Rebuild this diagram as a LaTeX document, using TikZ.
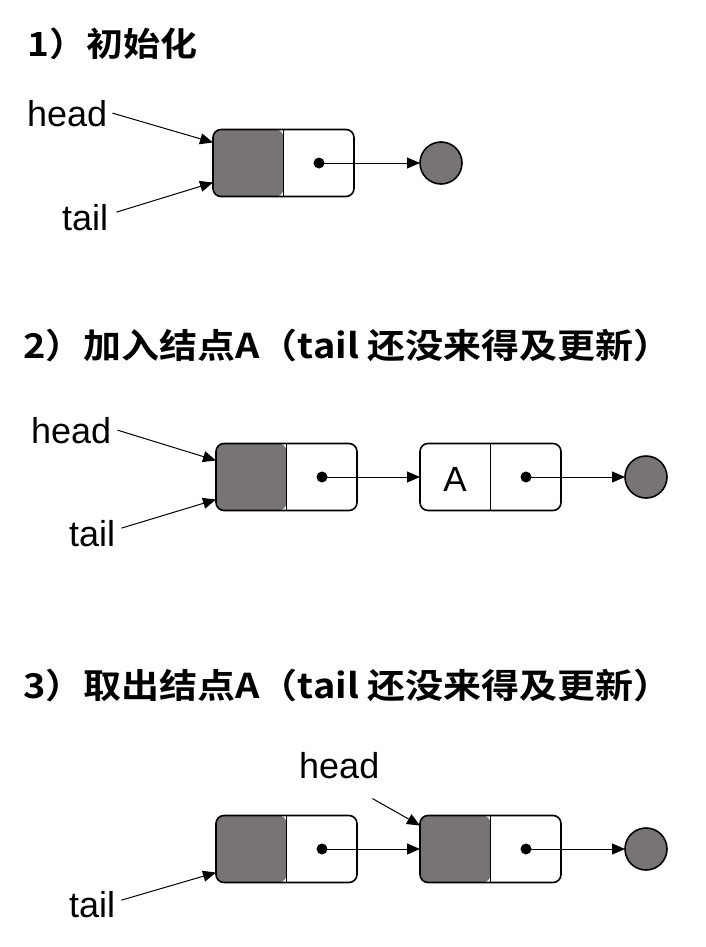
\documentclass[tikz,border=0pt]{standalone}
\usepackage{fontspec}
\setmainfont{Liberation Sans}
\newfontfamily\titlefont{Noto Sans CJK SC Bold}
\usetikzlibrary{arrows.meta,positioning}
\definecolor{cellgray}{RGB}{120,116,115}
\newcommand{\steptitle}[1]{\scalebox{1}[0.9]{#1}}

\begin{document}
\begin{tikzpicture}[x=1bp,y=-1bp,
    >={Triangle[length=13bp,width=11bp]},
    cell/.style={draw,line width=1.6bp,rounded corners=8bp,fill=white,
                 minimum width=141bp,minimum height=67bp,inner sep=0pt,outer sep=0pt},
    fullcell/.style={cell,path picture={
        \fill[cellgray] (path picture bounding box.north west) rectangle (path picture bounding box.south);
        \draw[line width=1.6bp] (path picture bounding box.north) -- (path picture bounding box.south);}},
    datacell/.style={cell,path picture={
        \draw[line width=1.6bp] (path picture bounding box.north) -- (path picture bounding box.south);}},
    dot/.style={circle,fill=black,minimum size=11bp,inner sep=0pt},
    nil/.style={circle,draw,line width=1.6bp,fill=cellgray,minimum size=42bp,inner sep=0pt,outer sep=0pt},
    lbl/.style={font=\fontsize{36bp}{40bp}\selectfont,inner sep=0pt,anchor=base west},
    ttl/.style={font=\titlefont\fontsize{38bp}{42bp}\selectfont,inner sep=0pt,anchor=west},
    ptr/.style={->,line width=1bp}]
\useasboundingbox (0,0) rectangle (706,947);

% 1) init
\node[ttl,font=\titlefont\fontsize{37bp}{42bp}\selectfont] (title1) at (27,44) {\steptitle{1）初始化}};
\node[fullcell] (n11) at (283.5,163) {};
\node[dot] (d11) at ([xshift=35.5bp]n11.center) {};
\node[nil] (z1) at (441,163) {};
\node[lbl] (head1) at (27,126) {head};
\node[lbl] (tail1) at (62,230) {tail};
\draw[ptr] ([xshift=5bp]head1.east) -- ([yshift=-13bp]n11.north west);
\draw[ptr] ([xshift=8bp,yshift=5bp]tail1.east) -- ([yshift=14bp]n11.south west);
\draw[ptr] (d11.center) -- (z1.west);

% 2) enqueue A
\node[ttl] (title2) at (23,345) {\steptitle{2）加入结点A（tail 还没来得及更新）}};
\node[fullcell] (n21) at (286.5,477) {};
\node[datacell] (n22) at (490.5,477) {};
\node[font=\fontsize{35bp}{40bp}\selectfont,inner sep=0pt] (a22) at ([xshift=-35.5bp,yshift=-2bp]n22.center) {A};
\node[dot] (d21) at ([xshift=35.5bp]n21.center) {};
\node[dot] (d22) at ([xshift=35.5bp]n22.center) {};
\node[nil] (z2) at (646,477) {};
\node[lbl] (head2) at (31,443) {head};
\node[lbl] (tail2) at (69,546) {tail};
\draw[ptr] ([xshift=6bp]head2.east) -- ([yshift=-17bp]n21.north west);
\draw[ptr] ([xshift=6bp,yshift=5bp]tail2.east) -- ([yshift=11bp]n21.south west);
\draw[ptr] (d21.center) -- (n22.west);
\draw[ptr] (d22.center) -- (z2.west);

% 3) dequeue A
\node[ttl] (title3) at (23,685) {\steptitle{3）取出结点A（tail 还没来得及更新）}};
\node[fullcell] (n31) at (286.5,849) {};
\node[fullcell] (n32) at (490.5,849) {};
\node[dot] (d31) at ([xshift=35.5bp]n31.center) {};
\node[dot] (d32) at ([xshift=35.5bp]n32.center) {};
\node[nil] (z3) at (646,849) {};
\node[lbl] (head3) at (299,778) {head};
\node[lbl] (tail3) at (69,917) {tail};
\draw[ptr] ([xshift=-7bp,yshift=-20bp]head3.south east) -- ([yshift=-10bp]n32.north west);
\draw[ptr] ([xshift=6bp,yshift=4bp]tail3.east) -- ([yshift=10bp]n31.south west);
\draw[ptr] (d31.center) -- (n32.west);
\draw[ptr] (d32.center) -- (z3.west);
\end{tikzpicture}
\end{document}
